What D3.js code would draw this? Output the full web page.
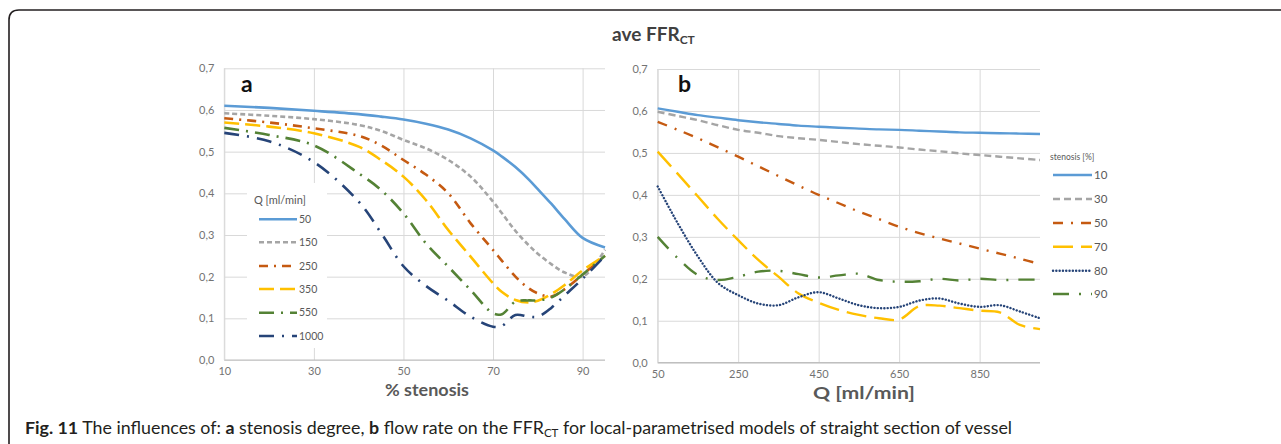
<!DOCTYPE html>
<html><head><meta charset="utf-8">
<script src="https://cdn.jsdelivr.net/npm/d3@7"></script>
<style>
html,body{margin:0;padding:0;background:#fff;}
svg{display:block;}
text{font-family:Lato,"Open Sans",sans-serif;}
</style></head>
<body>
<svg id="chart" width="1281" height="444"></svg>
<script>
// ---------- DATA ----------
// Panel a: x = % stenosis, one series per flow rate Q
const stenosisGrid = [10,20,30,40,45,50,55,60,65,70,72,75,78,80,83,86,90,95];
const q50   = [.61,.605,.598,.59,.584,.577,.567,.553,.532,.503,.488,.463,.433,.41,.375,.338,.293,.27];
const q150  = [.592,.586,.578,.564,.55,.528,.508,.48,.44,.38,.352,.31,.275,.255,.23,.21,.2,.265];
const q250  = [.58,.57,.556,.538,.515,.48,.445,.4,.328,.264,.238,.2,.172,.16,.152,.17,.205,.25];
const q350  = [.57,.56,.544,.512,.48,.44,.384,.312,.248,.184,.163,.144,.138,.142,.158,.18,.215,.25];
const q550  = [.557,.54,.515,.448,.408,.352,.28,.224,.168,.112,.11,.14,.143,.143,.15,.17,.205,.25];
const q1000 = [.545,.525,.475,.38,.305,.225,.178,.142,.104,.08,.082,.108,.104,.104,.125,.155,.195,.25];
const qLabels = ["50","150","250","350","550","1000"];

// Panel b: x = Q [ml/min], one series per stenosis %
const flowGrid = [50,100,150,200,250,300,350,400,450,500,550,600,650,700,750,800,850,900,950,1000];
const s10 = [.606,.598,.59,.584,.578,.573,.569,.565,.5625,.56,.558,.556,.555,.553,.551,.549,.548,.547,.546,.545];
const s30 = [.598,.588,.578,.566,.555,.548,.54,.535,.531,.526,.521,.517,.513,.508,.504,.499,.495,.491,.487,.483];
const s50 = [.574,.555,.535,.513,.491,.468,.445,.422,.4,.38,.36,.342,.324,.309,.296,.284,.272,.26,.248,.235];
const s70 = [.503,.45,.396,.342,.292,.245,.205,.165,.143,.126,.114,.106,.103,.135,.136,.13,.124,.12,.09,.08];
const s80 = [.42,.332,.253,.19,.161,.141,.137,.156,.168,.153,.137,.13,.133,.148,.153,.141,.133,.137,.122,.106];
const s90 = [.3,.249,.209,.197,.205,.217,.219,.211,.203,.208,.212,.197,.193,.194,.2,.196,.2,.197,.198,.198];
const sLabels = ["10","30","50","70","80","90"];

const yTicks = [0,0.1,0.2,0.3,0.4,0.5,0.6,0.7];
const xTicksA = [10,30,50,70,90];
const xTicksB = [50,250,450,650,850];

// ---------- STYLES ----------
const stylesA = [
  {color:"#5B9BD5", dash:null},
  {color:"#A5A5A5", dash:"5,3"},
  {color:"#C55A11", dash:"9,6,2,6"},
  {color:"#FFC000", dash:"15,6"},
  {color:"#548235", dash:"15,7,2,7"},
  {color:"#264478", dash:"15,8,2,8"}
];
const stylesB = [
  {color:"#5B9BD5", dash:null, cap:"butt"},
  {color:"#A5A5A5", dash:"7,4", cap:"butt"},
  {color:"#C55A11", dash:"10,8,2,8", cap:"butt"},
  {color:"#FFC000", dash:"20,8", cap:"butt"},
  {color:"#264478", dash:"0.1,3.2", cap:"round"},
  {color:"#548235", dash:"16,10,2,10", cap:"butt"}
];

const svg = d3.select("#chart");
const fmt = d => d3.format(".1f")(d).replace(".", ",");

// Border
svg.append("path")
  .attr("d","M9,444 L9,20 Q9,10 19,10 L1281,10")
  .attr("fill","none").attr("stroke","#231f20").attr("stroke-width",1.6);

// Title
const title = svg.append("text").attr("x",612).attr("y",41)
  .attr("font-size",19).attr("font-weight","bold").attr("fill","#404040");
title.append("tspan").text("ave FFR");
title.append("tspan").attr("font-size",12).attr("dy",3).text("CT");

function panel(cfg){
  const x = d3.scaleLinear().domain(cfg.xDomain).range([cfg.left,cfg.right]);
  const y = d3.scaleLinear().domain([0,0.7]).range([cfg.bottom,cfg.top]);
  const g = svg.append("g");
  // horizontal grid
  g.append("g").attr("transform",`translate(${cfg.left},0)`)
    .call(d3.axisLeft(y).tickValues(yTicks).tickSize(-(cfg.right-cfg.left)).tickFormat(fmt).tickPadding(10))
    .call(a=>a.select(".domain").remove())
    .call(a=>a.selectAll("line").attr("stroke","#d9d9d9"))
    .call(a=>a.selectAll("text").attr("fill","#737373").attr("font-size",11).attr("font-family","Lato,sans-serif"));
  // vertical grid + ticks
  g.append("g").attr("transform",`translate(0,${cfg.bottom})`)
    .call(d3.axisBottom(x).tickValues(cfg.xTicks).tickSize(-(cfg.bottom-cfg.top)).tickPadding(cfg.xPad))
    .call(a=>a.select(".domain").remove())
    .call(a=>a.selectAll("line").attr("stroke","#d9d9d9"))
    .call(a=>a.selectAll("text").attr("fill","#737373").attr("font-size",11).attr("font-family","Lato,sans-serif"));
  g.append("line").attr("x1",cfg.left).attr("x2",cfg.right).attr("y1",cfg.bottom).attr("y2",cfg.bottom)
    .attr("stroke","#bfbfbf").attr("stroke-width",1.2);
  g.append("line").attr("x1",cfg.left).attr("x2",cfg.left).attr("y1",cfg.top).attr("y2",cfg.bottom)
    .attr("stroke","#d9d9d9");

  if(cfg.legendBox){
    g.append("rect").attr("x",cfg.legendBox[0]).attr("y",cfg.legendBox[1])
      .attr("width",cfg.legendBox[2]).attr("height",cfg.legendBox[3]).attr("fill","#fff");
  }

  const line = d3.line().x(d=>x(d[0])).y(d=>y(d[1])).curve(d3.curveCatmullRom.alpha(0.5));
  cfg.series.forEach((vals,i)=>{
    const st = cfg.styles[i];
    g.append("path").datum(cfg.xs.map((v,j)=>[v,vals[j]]))
      .attr("d",line).attr("fill","none").attr("stroke",st.color)
      .attr("stroke-width",cfg.sw).attr("stroke-dasharray",st.dash)
      .attr("stroke-linecap",st.cap||"butt");
  });

  // panel letter
  g.append("text").attr("x",cfg.letterX).attr("y",92).attr("font-size",23).attr("font-weight","bold")
    .attr("font-family","'Liberation Sans',Arial,sans-serif").attr("fill","#111").text(cfg.letter);
  // axis title
  g.append("text").attr("x",cfg.axisTitleX).attr("y",cfg.axisTitleY).attr("font-size",17).attr("font-weight","bold")
    .attr("fill","#595959").attr("textLength",cfg.axisTitleW).attr("lengthAdjust","spacingAndGlyphs")
    .text(cfg.axisTitle);

  // legend
  const L = cfg.legend;
  g.append("text").attr("x",L.titleX).attr("y",L.titleY).attr("font-size",L.titleSize)
    .attr("fill","#595959").text(L.title);
  L.labels.forEach((lab,i)=>{
    const st = cfg.styles[i];
    const yy = L.ys[i];
    g.append("line").attr("x1",L.x1).attr("x2",L.x2).attr("y1",yy).attr("y2",yy)
      .attr("stroke",st.color).attr("stroke-width",cfg.sw).attr("stroke-dasharray",st.dash)
      .attr("stroke-linecap",st.cap||"butt");
    g.append("text").attr("x",L.x2+2).attr("y",yy).attr("dy","0.35em").attr("font-size",L.size)
      .attr("fill","#595959").text(lab);
  });
}

panel({
  xDomain:[10,95], left:224.3, right:605, top:68.3, bottom:360,
  xTicks:xTicksA, xPad:7, sw:2.6,
  xs:stenosisGrid, series:[q50,q150,q250,q350,q550,q1000], styles:stylesA,
  letter:"a", letterX:241,
  axisTitle:"% stenosis", axisTitleX:385, axisTitleY:396, axisTitleW:84,
  legendBox:[247,183,80,165],
  legend:{title:"Q [ml/min]", titleX:254, titleY:204, titleSize:11, size:10.5,
    x1:259, x2:297, ys:[219.3,242.3,266,289,312.7,336], labels:qLabels}
});

panel({
  xDomain:[50,1000], left:657.7, right:1040, top:69, bottom:362.7,
  xTicks:xTicksB, xPad:8, sw:2.4,
  xs:flowGrid, series:[s10,s30,s50,s70,s80,s90], styles:stylesB,
  letter:"b", letterX:678,
  axisTitle:"Q [ml/min]", axisTitleX:813, axisTitleY:399, axisTitleW:102,
  legendBox:null,
  legend:{title:"stenosis [%]", titleX:1050, titleY:160, titleSize:8.5, size:11.5,
    x1:1053, x2:1092, ys:[175,199,223,246.7,270.7,294], labels:sLabels}
});

// Caption
const cap = svg.append("text").attr("x",25).attr("y",434).attr("font-size",17)
  .attr("font-family","'Open Sans',Lato,sans-serif").attr("fill","#231f20")
  .attr("textLength",987).attr("lengthAdjust","spacingAndGlyphs");
cap.append("tspan").attr("font-weight","bold").text("Fig. 11");
cap.append("tspan").text(" The influences of: ");
cap.append("tspan").attr("font-weight","bold").text("a");
cap.append("tspan").text(" stenosis degree, ");
cap.append("tspan").attr("font-weight","bold").text("b");
cap.append("tspan").text(" flow rate on the FFR");
cap.append("tspan").attr("font-size",11).attr("dy",3).text("CT");
cap.append("tspan").attr("dy",-3).text(" for local-parametrised models of straight section of vessel");
</script>
</body></html>
